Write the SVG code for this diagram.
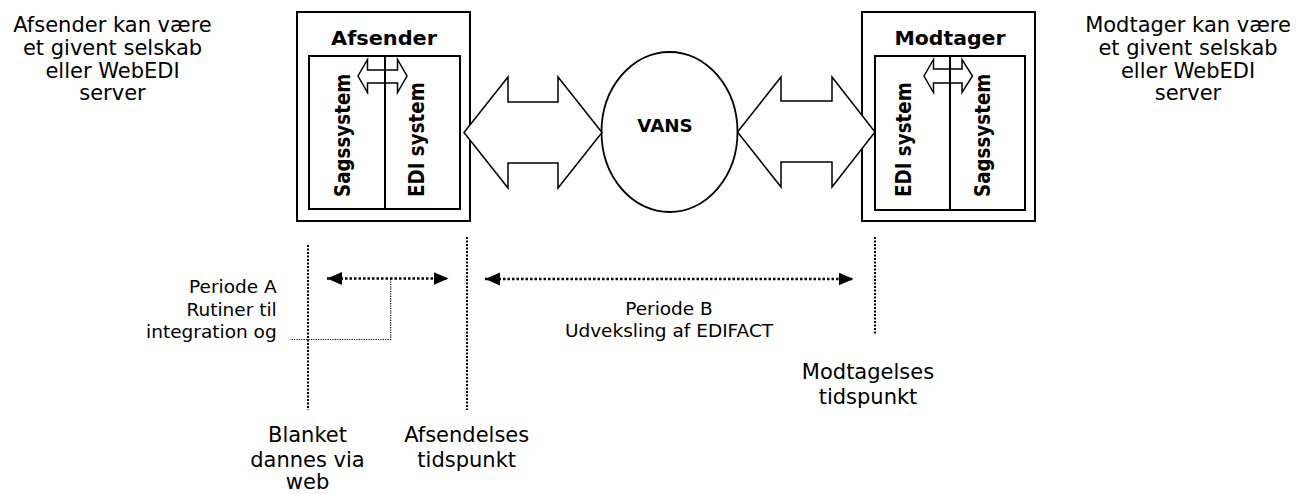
<svg xmlns="http://www.w3.org/2000/svg" width="1296" height="494" viewBox="0 0 1296 494">
<style>
text{font-family:"DejaVu Sans","Liberation Sans",sans-serif;fill:#000}
.lbl{font-size:21px;text-anchor:middle}
.per{font-size:18.5px}
.bold{font-weight:bold;font-size:18.3px}
.ttl{font-weight:bold;font-size:19.5px;text-anchor:middle}
.box{fill:#fff;stroke:#000;stroke-width:2}
.big{fill:#fff;stroke:#000;stroke-width:1.5;stroke-linejoin:miter}
.sm{fill:#fff;stroke:#000;stroke-width:1.5}
.vdot{stroke:#000;stroke-width:2;stroke-dasharray:2 1.5;fill:none}
.pdot{stroke:#000;stroke-width:2.5;stroke-dasharray:2.5 2;fill:none}
.tdot{stroke:#000;stroke-width:1.2;stroke-dasharray:1.2 1.2;fill:none}
</style>
<defs>
<marker id="ah" markerUnits="userSpaceOnUse" markerWidth="16" markerHeight="14" refX="15" refY="6.5" orient="auto-start-reverse">
<path d="M0,0 L15,6.5 L0,13 z" fill="#000"/>
</marker>
</defs>

<g id="note-afsender">
<text class="lbl" x="112.5" y="32">Afsender kan være</text>
<text class="lbl" x="112.5" y="55">et givent selskab</text>
<text class="lbl" x="112.5" y="78">eller WebEDI</text>
<text class="lbl" x="112.5" y="100">server</text>
</g>
<g id="note-modtager">
<text class="lbl" x="1188" y="32">Modtager kan være</text>
<text class="lbl" x="1188" y="55">et givent selskab</text>
<text class="lbl" x="1188" y="78">eller WebEDI</text>
<text class="lbl" x="1188" y="100">server</text>
</g>

<g id="afsender">
<rect class="box" x="297" y="12" width="173" height="209"/>
<text class="ttl" x="384" y="45" textLength="106" lengthAdjust="spacingAndGlyphs">Afsender</text>
<rect class="box" x="309" y="56" width="151" height="153"/>
<polygon class="sm" points="358,76 367.5,59.5 367.5,70 397.5,70 397.5,59.5 407,76 397.5,92.5 397.5,83 367.5,83 367.5,92.5"/>
<line x1="385" y1="56" x2="385" y2="209" stroke="#000" stroke-width="2"/>
<text class="bold" transform="translate(349.5,197) rotate(-90) scale(1,1.14)">Sagssystem</text>
<text class="bold" transform="translate(424,197) rotate(-90) scale(1,1.14)">EDI system</text>
</g>

<g id="modtager">
<rect class="box" x="862" y="12" width="173" height="209"/>
<text class="ttl" x="950" y="45" textLength="111" lengthAdjust="spacingAndGlyphs">Modtager</text>
<rect class="box" x="875" y="56" width="150" height="154"/>
<polygon class="sm" points="924,76 933.5,59.5 933.5,69 962,69 962,59.5 972.5,76 962,92.5 962,83 933.5,83 933.5,92.5"/>
<line x1="950" y1="56" x2="950" y2="210" stroke="#000" stroke-width="2"/>
<text class="bold" transform="translate(911,197) rotate(-90) scale(1,1.14)">EDI system</text>
<text class="bold" transform="translate(989.5,197) rotate(-90) scale(1,1.14)">Sagssystem</text>
</g>

<g id="vans">
<ellipse cx="669.5" cy="132" rx="68" ry="80" fill="#fff" stroke="#000" stroke-width="1.8"/>
<text class="bold" x="665" y="131.5" text-anchor="middle">VANS</text>
</g>

<g id="connectors">
<polygon class="big" points="464,132.5 508,77 508,102 558,102 558,77 602,132.5 558,188 558,163 508,163 508,188"/>
<polygon class="big" points="737.5,132 781,77 781,101 832,101 832,77 875,132 832,187 832,162 781,162 781,187"/>
<line class="vdot" x1="308" y1="245" x2="308" y2="410"/>
<line class="vdot" x1="467" y1="237" x2="467" y2="410"/>
<line class="vdot" x1="875" y1="237" x2="875" y2="335"/>
<line class="pdot" x1="327" y1="278.5" x2="448.5" y2="278.5" marker-start="url(#ah)" marker-end="url(#ah)"/>
<line class="pdot" x1="485" y1="279" x2="853.5" y2="279" marker-start="url(#ah)" marker-end="url(#ah)"/>
<polyline class="tdot" points="390.7,279 390.7,339.5 290,339.5"/>
</g>

<g id="periode-a">
<text class="per" x="276.7" y="293" text-anchor="end">Periode A</text>
<text class="per" x="276.7" y="315.5" text-anchor="end">Rutiner til</text>
<text class="per" x="276.7" y="338" text-anchor="end">integration og</text>
</g>
<g id="periode-b">
<text class="per" x="669" y="315" text-anchor="middle">Periode B</text>
<text class="per" x="669" y="337" text-anchor="middle">Udveksling af EDIFACT</text>
</g>

<g id="blanket">
<text class="lbl" x="307.5" y="441.5">Blanket</text>
<text class="lbl" x="307.5" y="466.5">dannes via</text>
<text class="lbl" x="307.5" y="489">web</text>
</g>
<g id="afsendelses">
<text class="lbl" x="466.7" y="442">Afsendelses</text>
<text class="lbl" x="466.7" y="467">tidspunkt</text>
</g>
<g id="modtagelses">
<text class="lbl" x="868" y="378.5">Modtagelses</text>
<text class="lbl" x="868" y="404">tidspunkt</text>
</g>
</svg>
